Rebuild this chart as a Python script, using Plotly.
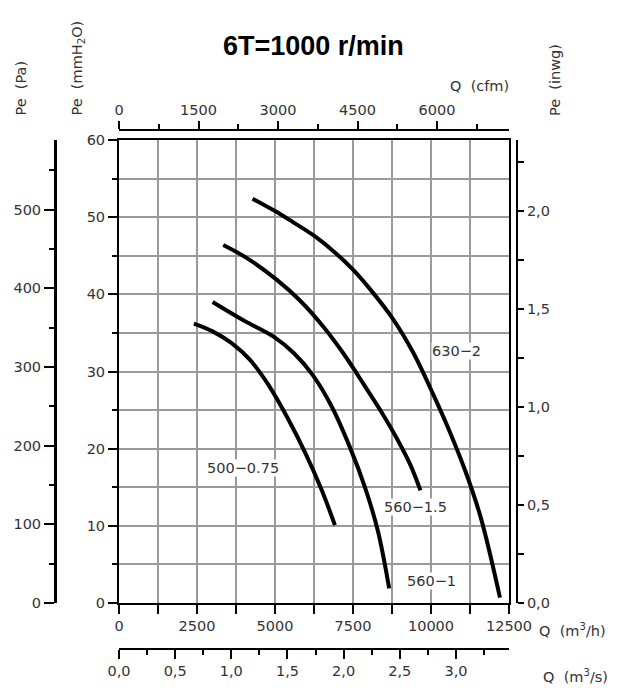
import plotly.graph_objects as go

W, H = 642, 691

# ---- data (Q in m3/h, Pe in mmH2O) ----
q_630_2 = [4280, 5000, 5600, 6250, 6900, 7500, 8000, 8800, 9450, 10075, 10600, 11100, 11600, 12210]
p_630_2 = [52.4, 50.8, 49.3, 47.6, 45.5, 43.2, 40.9, 36.7, 32.3, 27.0, 22.2, 17.1, 11.0, 0.7]

q_560_15 = [3340, 4100, 5050, 5800, 6550, 7200, 7850, 8450, 8950, 9350, 9660]
p_560_15 = [46.4, 44.7, 41.9, 39.2, 35.8, 32.3, 28.3, 24.5, 21.0, 17.8, 14.6]

q_560_1 = [3000, 4000, 5000, 5600, 6200, 6800, 7400, 7900, 8300, 8660]
p_560_1 = [39.0, 36.6, 34.4, 32.4, 29.6, 25.6, 20.2, 14.8, 9.3, 1.9]

q_500_075 = [2400, 3000, 3600, 4200, 4800, 5400, 6000, 6500, 6920]
p_500_075 = [36.2, 35.2, 33.7, 31.5, 28.2, 24.0, 19.2, 14.6, 10.1]

curve_names = ["630\u22122", "560\u22121.5", "560\u22121", "500\u22120.75"]
label_q = [10820, 9490, 10020, 3980]
label_p = [32.6, 12.5, 2.8, 17.45]

Q_MAX = 12500
P_MAX = 60
CFM_PER_M3H = 1 / 1.699011
PA_PER_MM = 9.80665
MM_PER_INWG = 25.4

title_text = "6T=1000 r/min"

# ---- helpers ----
def px(x):
    return x / W

def py(y):
    return 1 - y / H

FONT = dict(family="DejaVu Sans", size=14.5, color="#333")
GRID = "#9a9a9a"

fig = go.Figure()
for q, p, name in zip([q_630_2, q_560_15, q_560_1, q_500_075],
                      [p_630_2, p_560_15, p_560_1, p_500_075], curve_names):
    fig.add_trace(go.Scatter(x=q, y=p, mode="lines", name=name,
                             line=dict(color="black", width=4, shape="spline", smoothing=1.0),
                             showlegend=False, hoverinfo="skip"))

# invisible helper traces so the secondary scales are drawn
for xa, ya, xr, yr in [("x2", "y", [0, Q_MAX * CFM_PER_M3H], [0, 0]),
                       ("x3", "y", [0, Q_MAX / 3600], [0, 0]),
                       ("x", "y2", [0, 0], [0, P_MAX * PA_PER_MM]),
                       ("x", "y3", [0, 0], [0, P_MAX / MM_PER_INWG])]:
    fig.add_trace(go.Scatter(x=xr, y=yr, xaxis=xa, yaxis=ya, mode="markers",
                             marker=dict(opacity=0), showlegend=False, hoverinfo="skip"))

common_tick = dict(ticks="outside", tickcolor="black", tickwidth=2, showline=True,
                   linecolor="black", tickfont=FONT, zeroline=False, automargin=False)

fig.update_layout(
    template="none",
    width=W, height=H, autosize=False,
    margin=dict(l=0, r=0, t=0, b=0, pad=0),
    paper_bgcolor="white", plot_bgcolor="white",
    separators=",.",
    xaxis=dict(domain=[px(119), px(509)], range=[0, Q_MAX], tick0=0, dtick=2500,
               tickformat="d", ticklen=9, linewidth=2, mirror=True,
               showgrid=True, gridcolor=GRID, gridwidth=1.5,
               minor=dict(tick0=0, dtick=1250, ticks="outside", ticklen=9, tickwidth=2,
                          tickcolor="black", showgrid=True, gridcolor=GRID, gridwidth=1.5),
               **common_tick),
    yaxis=dict(domain=[py(603), py(140)], range=[0, P_MAX], tick0=0, dtick=10,
               ticklen=9, linewidth=2, mirror=True,
               showgrid=True, gridcolor=GRID, gridwidth=1.5,
               minor=dict(tick0=0, dtick=5, ticks="outside", ticklen=5, tickwidth=2,
                          tickcolor="black", showgrid=True, gridcolor=GRID, gridwidth=1.5),
               **common_tick),
    xaxis2=dict(overlaying="x", anchor="free", position=py(130), side="top",
                range=[0, Q_MAX * CFM_PER_M3H], tick0=0, dtick=1500, tickformat="d",
                ticklen=8, linewidth=2, showgrid=False,
                minor=dict(tick0=0, dtick=750, ticks="outside", ticklen=5, tickwidth=2,
                           tickcolor="black"),
                **common_tick),
    xaxis3=dict(overlaying="x", anchor="free", position=py(649), side="bottom",
                range=[0, Q_MAX / 3600], tick0=0, dtick=0.5, tickformat=".1f",
                ticklen=9, linewidth=2, showgrid=False,
                minor=dict(tick0=0, dtick=0.25, ticks="outside", ticklen=5, tickwidth=2,
                           tickcolor="black"),
                **common_tick),
    yaxis2=dict(overlaying="y", anchor="free", position=px(55), side="left",
                range=[0, P_MAX * PA_PER_MM], tick0=0, dtick=100, tickformat="d",
                ticklen=10, linewidth=3, showgrid=False,
                minor=dict(tick0=0, dtick=50, ticks="outside", ticklen=5, tickwidth=2,
                           tickcolor="black"),
                **common_tick),
    yaxis3=dict(overlaying="y", anchor="free", position=px(517), side="right",
                range=[0, P_MAX / MM_PER_INWG], tick0=0, dtick=0.5, tickformat=".1f",
                ticklen=6, linewidth=2, showgrid=False,
                minor=dict(tick0=0, dtick=0.25, ticks="outside", ticklen=6, tickwidth=2,
                           tickcolor="black"),
                **common_tick),
)

ann = []
ann.append(dict(text="<b>" + title_text + "</b>", x=px(313), y=py(46), xref="paper", yref="paper",
                showarrow=False, xanchor="center", yanchor="middle",
                font=dict(family="Liberation Sans", size=27, color="black")))
for txt, xx in [("Pe  (Pa)", 20), ("Pe  (mmH<sub>2</sub>O)", 77), ("Pe  (inwg)", 555)]:
    ann.append(dict(text=txt, x=px(xx), y=py(118), xref="paper", yref="paper", textangle=-90,
                    showarrow=False, xanchor="center", yanchor="bottom", font=FONT))
ann.append(dict(text="Q  (cfm)", x=px(479), y=py(86), xref="paper", yref="paper",
                showarrow=False, xanchor="center", yanchor="middle", font=FONT))
ann.append(dict(text="Q  (m<sup>3</sup>/h)", x=px(537), y=py(630), xref="paper", yref="paper",
                showarrow=False, xanchor="left", yanchor="middle", font=FONT))
ann.append(dict(text="Q  (m<sup>3</sup>/s)", x=px(541), y=py(676), xref="paper", yref="paper",
                showarrow=False, xanchor="left", yanchor="middle", font=FONT))
for name, lq, lp in zip(curve_names, label_q, label_p):
    ann.append(dict(text=name, x=lq, y=lp, xref="x", yref="y", showarrow=False,
                    xanchor="center", yanchor="middle", font=FONT, bgcolor="white", borderpad=0))
fig.update_layout(annotations=ann)

fig.write_html("out.html", config={"displayModeBar": False},
               post_script="document.body.style.margin='0px';document.body.style.overflow='hidden';")
